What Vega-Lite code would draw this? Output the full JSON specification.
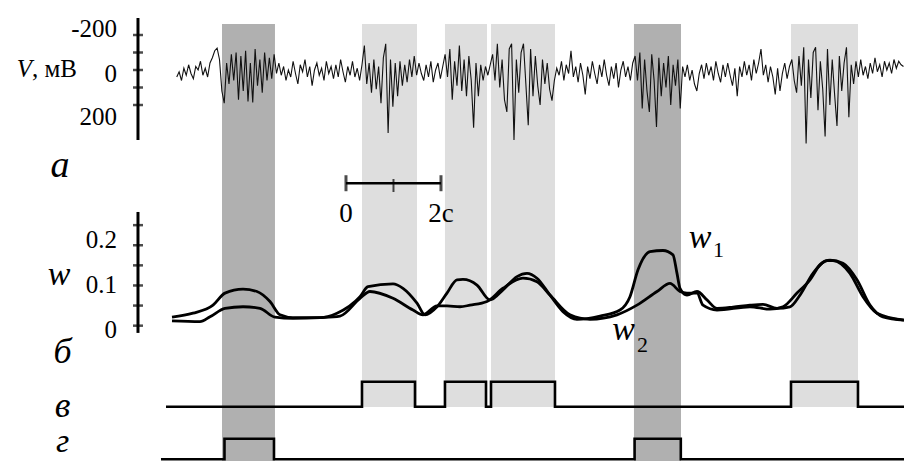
{
"$schema": "https://vega.github.io/schema/vega-lite/v6.json",
"width": 904, "height": 461,
"autosize": {"type": "none"},
"padding": 0,
"background": "white",
"config": {"view": {"stroke": null}},
"datasets": {
"bands": [
{"start": 1.053, "end": 2.168, "kind": "dark"},
{"start": 4.0, "end": 5.158, "kind": "light"},
{"start": 5.747, "end": 6.632, "kind": "light"},
{"start": 6.716, "end": 8.063, "kind": "light"},
{"start": 9.726, "end": 10.716, "kind": "dark"},
{"start": 13.032, "end": 14.442, "kind": "light"}
],
"eeg": [
{"t":0.10,"v":40},{"t":0.15,"v":10},{"t":0.20,"v":60},{"t":0.25,"v":-10},{"t":0.30,"v":30},{"t":0.35,"v":-30},{"t":0.40,"v":20},{"t":0.45,"v":50},{"t":0.50,"v":-20},{"t":0.55,"v":0},{"t":0.60,"v":-50},{"t":0.65,"v":30},{"t":0.70,"v":-10},{"t":0.75,"v":40},{"t":0.80,"v":-40},{"t":0.85,"v":-70},{"t":0.90,"v":-110},{"t":0.95,"v":-125},{"t":1.00,"v":-60},{"t":1.05,"v":120},{"t":1.10,"v":190},{"t":1.15,"v":-40},{"t":1.20,"v":80},{"t":1.25,"v":-90},{"t":1.30,"v":60},{"t":1.35,"v":-100},{"t":1.40,"v":170},{"t":1.45,"v":-80},{"t":1.50,"v":120},{"t":1.55,"v":-110},{"t":1.60,"v":180},{"t":1.65,"v":-40},{"t":1.70,"v":185},{"t":1.75,"v":-120},{"t":1.80,"v":90},{"t":1.85,"v":-60},{"t":1.90,"v":130},{"t":1.95,"v":-100},{"t":2.00,"v":60},{"t":2.05,"v":-70},{"t":2.10,"v":50},{"t":2.15,"v":-90},{"t":2.20,"v":20},{"t":2.25,"v":-40},{"t":2.30,"v":30},{"t":2.35,"v":-20},{"t":2.40,"v":60},{"t":2.45,"v":0},{"t":2.50,"v":40},{"t":2.55,"v":-50},{"t":2.60,"v":20},{"t":2.65,"v":80},{"t":2.70,"v":-30},{"t":2.75,"v":10},{"t":2.80,"v":-60},{"t":2.85,"v":40},{"t":2.90,"v":-20},{"t":2.95,"v":90},{"t":3.00,"v":0},{"t":3.05,"v":-40},{"t":3.10,"v":30},{"t":3.15,"v":-10},{"t":3.20,"v":60},{"t":3.25,"v":-50},{"t":3.30,"v":20},{"t":3.35,"v":-20},{"t":3.40,"v":50},{"t":3.45,"v":-30},{"t":3.50,"v":40},{"t":3.55,"v":-60},{"t":3.60,"v":10},{"t":3.65,"v":70},{"t":3.70,"v":-20},{"t":3.75,"v":30},{"t":3.80,"v":-50},{"t":3.85,"v":40},{"t":3.90,"v":-10},{"t":3.95,"v":60},{"t":4.00,"v":-30},{"t":4.05,"v":-140},{"t":4.10,"v":80},{"t":4.15,"v":-40},{"t":4.20,"v":130},{"t":4.25,"v":-60},{"t":4.30,"v":110},{"t":4.35,"v":-20},{"t":4.40,"v":190},{"t":4.45,"v":-70},{"t":4.50,"v":-150},{"t":4.55,"v":360},{"t":4.60,"v":-60},{"t":4.65,"v":210},{"t":4.70,"v":-40},{"t":4.75,"v":150},{"t":4.80,"v":-50},{"t":4.85,"v":90},{"t":4.90,"v":-30},{"t":4.95,"v":70},{"t":5.00,"v":-60},{"t":5.05,"v":40},{"t":5.10,"v":-80},{"t":5.15,"v":30},{"t":5.20,"v":-40},{"t":5.25,"v":20},{"t":5.30,"v":60},{"t":5.35,"v":-30},{"t":5.40,"v":40},{"t":5.45,"v":-50},{"t":5.50,"v":70},{"t":5.55,"v":0},{"t":5.60,"v":-40},{"t":5.65,"v":50},{"t":5.70,"v":-20},{"t":5.75,"v":-90},{"t":5.80,"v":40},{"t":5.85,"v":-120},{"t":5.90,"v":170},{"t":5.95,"v":-50},{"t":6.00,"v":90},{"t":6.05,"v":-140},{"t":6.10,"v":120},{"t":6.15,"v":-60},{"t":6.20,"v":150},{"t":6.25,"v":-80},{"t":6.30,"v":60},{"t":6.35,"v":330},{"t":6.40,"v":-40},{"t":6.45,"v":150},{"t":6.50,"v":-30},{"t":6.55,"v":60},{"t":6.60,"v":-20},{"t":6.65,"v":30},{"t":6.70,"v":-30},{"t":6.75,"v":-90},{"t":6.80,"v":60},{"t":6.85,"v":-150},{"t":6.90,"v":100},{"t":6.95,"v":-60},{"t":7.00,"v":170},{"t":7.05,"v":240},{"t":7.10,"v":-120},{"t":7.15,"v":-150},{"t":7.20,"v":400},{"t":7.25,"v":-60},{"t":7.30,"v":130},{"t":7.35,"v":-100},{"t":7.40,"v":-150},{"t":7.45,"v":80},{"t":7.50,"v":315},{"t":7.55,"v":-120},{"t":7.60,"v":150},{"t":7.65,"v":-80},{"t":7.70,"v":90},{"t":7.75,"v":200},{"t":7.80,"v":-60},{"t":7.85,"v":80},{"t":7.90,"v":-40},{"t":7.95,"v":110},{"t":8.00,"v":175},{"t":8.05,"v":60},{"t":8.10,"v":-10},{"t":8.15,"v":30},{"t":8.20,"v":-50},{"t":8.25,"v":60},{"t":8.30,"v":-30},{"t":8.35,"v":20},{"t":8.40,"v":-110},{"t":8.45,"v":40},{"t":8.50,"v":-20},{"t":8.55,"v":70},{"t":8.60,"v":-40},{"t":8.65,"v":30},{"t":8.70,"v":140},{"t":8.75,"v":-20},{"t":8.80,"v":50},{"t":8.85,"v":-50},{"t":8.90,"v":20},{"t":8.95,"v":80},{"t":9.00,"v":-30},{"t":9.05,"v":40},{"t":9.10,"v":-60},{"t":9.15,"v":30},{"t":9.20,"v":90},{"t":9.25,"v":-20},{"t":9.30,"v":50},{"t":9.35,"v":-40},{"t":9.40,"v":100},{"t":9.45,"v":0},{"t":9.50,"v":-50},{"t":9.55,"v":40},{"t":9.60,"v":-20},{"t":9.65,"v":60},{"t":9.70,"v":-40},{"t":9.75,"v":-80},{"t":9.80,"v":60},{"t":9.85,"v":-100},{"t":9.90,"v":220},{"t":9.95,"v":-60},{"t":10.00,"v":120},{"t":10.05,"v":240},{"t":10.10,"v":-90},{"t":10.15,"v":60},{"t":10.20,"v":325},{"t":10.25,"v":-70},{"t":10.30,"v":150},{"t":10.35,"v":-40},{"t":10.40,"v":100},{"t":10.45,"v":-80},{"t":10.50,"v":200},{"t":10.55,"v":-30},{"t":10.60,"v":90},{"t":10.65,"v":-60},{"t":10.70,"v":220},{"t":10.75,"v":-20},{"t":10.80,"v":40},{"t":10.85,"v":-30},{"t":10.90,"v":60},{"t":10.95,"v":0},{"t":11.00,"v":80},{"t":11.05,"v":120},{"t":11.10,"v":20},{"t":11.15,"v":-30},{"t":11.20,"v":50},{"t":11.25,"v":-40},{"t":11.30,"v":30},{"t":11.35,"v":-20},{"t":11.40,"v":60},{"t":11.45,"v":-50},{"t":11.50,"v":20},{"t":11.55,"v":70},{"t":11.60,"v":-30},{"t":11.65,"v":40},{"t":11.70,"v":-40},{"t":11.75,"v":30},{"t":11.80,"v":90},{"t":11.85,"v":-10},{"t":11.90,"v":150},{"t":11.95,"v":-20},{"t":12.00,"v":40},{"t":12.05,"v":-50},{"t":12.10,"v":30},{"t":12.15,"v":-30},{"t":12.20,"v":60},{"t":12.25,"v":-60},{"t":12.30,"v":20},{"t":12.35,"v":-40},{"t":12.40,"v":-120},{"t":12.45,"v":30},{"t":12.50,"v":-30},{"t":12.55,"v":70},{"t":12.60,"v":-20},{"t":12.65,"v":40},{"t":12.70,"v":140},{"t":12.75,"v":-10},{"t":12.80,"v":120},{"t":12.85,"v":20},{"t":12.90,"v":-40},{"t":12.95,"v":50},{"t":13.00,"v":-20},{"t":13.05,"v":-60},{"t":13.10,"v":60},{"t":13.15,"v":130},{"t":13.20,"v":-80},{"t":13.25,"v":90},{"t":13.30,"v":-130},{"t":13.35,"v":420},{"t":13.40,"v":-60},{"t":13.45,"v":160},{"t":13.50,"v":-100},{"t":13.55,"v":-130},{"t":13.60,"v":230},{"t":13.65,"v":-50},{"t":13.70,"v":110},{"t":13.75,"v":380},{"t":13.80,"v":-120},{"t":13.85,"v":200},{"t":13.90,"v":-60},{"t":13.95,"v":140},{"t":14.00,"v":320},{"t":14.05,"v":-80},{"t":14.10,"v":120},{"t":14.15,"v":-40},{"t":14.20,"v":-130},{"t":14.25,"v":270},{"t":14.30,"v":-30},{"t":14.35,"v":80},{"t":14.40,"v":-50},{"t":14.45,"v":40},{"t":14.50,"v":-60},{"t":14.55,"v":30},{"t":14.60,"v":-20},{"t":14.65,"v":50},{"t":14.70,"v":-40},{"t":14.75,"v":20},{"t":14.80,"v":-70},{"t":14.85,"v":10},{"t":14.90,"v":-30},{"t":14.95,"v":40},{"t":15.00,"v":-50},{"t":15.05,"v":0},{"t":15.10,"v":-40},{"t":15.15,"v":20},{"t":15.20,"v":-60},{"t":15.25,"v":-10},{"t":15.30,"v":-50},{"t":15.35,"v":-30},{"t":15.40,"v":-20}
],
"w": [
{"s":"w1","t":0.0,"w":0.021},{"s":"w1","t":0.442,"w":0.031},{"s":"w1","t":0.863,"w":0.051},{"s":"w1","t":1.116,"w":0.081},{"s":"w1","t":1.495,"w":0.091},{"s":"w1","t":1.789,"w":0.085},{"s":"w1","t":2.063,"w":0.060},{"s":"w1","t":2.274,"w":0.027},{"s":"w1","t":2.547,"w":0.020},{"s":"w1","t":3.116,"w":0.020},{"s":"w1","t":3.474,"w":0.031},{"s":"w1","t":3.958,"w":0.072},{"s":"w1","t":4.126,"w":0.097},{"s":"w1","t":4.653,"w":0.104},{"s":"w1","t":4.863,"w":0.093},{"s":"w1","t":5.158,"w":0.056},{"s":"w1","t":5.326,"w":0.027},{"s":"w1","t":5.579,"w":0.047},{"s":"w1","t":5.789,"w":0.081},{"s":"w1","t":6.0,"w":0.114},{"s":"w1","t":6.126,"w":0.115},{"s":"w1","t":6.421,"w":0.101},{"s":"w1","t":6.695,"w":0.064},{"s":"w1","t":6.968,"w":0.089},{"s":"w1","t":7.263,"w":0.122},{"s":"w1","t":7.474,"w":0.130},{"s":"w1","t":7.684,"w":0.118},{"s":"w1","t":7.958,"w":0.076},{"s":"w1","t":8.232,"w":0.035},{"s":"w1","t":8.526,"w":0.016},{"s":"w1","t":9.011,"w":0.024},{"s":"w1","t":9.432,"w":0.039},{"s":"w1","t":9.642,"w":0.072},{"s":"w1","t":9.811,"w":0.139},{"s":"w1","t":10.063,"w":0.184},{"s":"w1","t":10.337,"w":0.187},{"s":"w1","t":10.547,"w":0.176},{"s":"w1","t":10.632,"w":0.130},{"s":"w1","t":10.695,"w":0.093},{"s":"w1","t":10.842,"w":0.076},{"s":"w1","t":11.053,"w":0.085},{"s":"w1","t":11.263,"w":0.064},{"s":"w1","t":11.474,"w":0.043},{"s":"w1","t":11.811,"w":0.046},{"s":"w1","t":12.168,"w":0.051},{"s":"w1","t":12.442,"w":0.053},{"s":"w1","t":12.737,"w":0.043},{"s":"w1","t":13.011,"w":0.047},{"s":"w1","t":13.221,"w":0.076},{"s":"w1","t":13.495,"w":0.130},{"s":"w1","t":13.789,"w":0.162},{"s":"w1","t":13.916,"w":0.162},{"s":"w1","t":14.274,"w":0.130},{"s":"w1","t":14.547,"w":0.072},{"s":"w1","t":14.842,"w":0.031},{"s":"w1","t":15.411,"w":0.014},
{"s":"w2","t":0.0,"w":0.012},{"s":"w2","t":0.589,"w":0.010},{"s":"w2","t":0.8,"w":0.022},{"s":"w2","t":1.116,"w":0.043},{"s":"w2","t":1.495,"w":0.047},{"s":"w2","t":1.853,"w":0.043},{"s":"w2","t":2.168,"w":0.021},{"s":"w2","t":2.547,"w":0.018},{"s":"w2","t":3.116,"w":0.020},{"s":"w2","t":3.537,"w":0.024},{"s":"w2","t":3.958,"w":0.068},{"s":"w2","t":4.168,"w":0.085},{"s":"w2","t":4.653,"w":0.068},{"s":"w2","t":5.074,"w":0.039},{"s":"w2","t":5.284,"w":0.027},{"s":"w2","t":5.579,"w":0.049},{"s":"w2","t":5.789,"w":0.049},{"s":"w2","t":6.063,"w":0.047},{"s":"w2","t":6.274,"w":0.051},{"s":"w2","t":6.632,"w":0.060},{"s":"w2","t":6.968,"w":0.093},{"s":"w2","t":7.389,"w":0.118},{"s":"w2","t":7.684,"w":0.109},{"s":"w2","t":7.958,"w":0.076},{"s":"w2","t":8.379,"w":0.027},{"s":"w2","t":8.8,"w":0.016},{"s":"w2","t":9.368,"w":0.027},{"s":"w2","t":9.789,"w":0.051},{"s":"w2","t":10.211,"w":0.085},{"s":"w2","t":10.484,"w":0.105},{"s":"w2","t":10.695,"w":0.085},{"s":"w2","t":10.842,"w":0.081},{"s":"w2","t":11.053,"w":0.081},{"s":"w2","t":11.179,"w":0.051},{"s":"w2","t":11.474,"w":0.039},{"s":"w2","t":12.168,"w":0.047},{"s":"w2","t":12.589,"w":0.041},{"s":"w2","t":12.863,"w":0.047},{"s":"w2","t":13.158,"w":0.081},{"s":"w2","t":13.432,"w":0.114},{"s":"w2","t":13.642,"w":0.151},{"s":"w2","t":13.853,"w":0.163},{"s":"w2","t":14.126,"w":0.155},{"s":"w2","t":14.421,"w":0.114},{"s":"w2","t":14.695,"w":0.051},{"s":"w2","t":14.968,"w":0.022},{"s":"w2","t":15.411,"w":0.014}
],
"vstep": [
{"t":-0.126,"s":0},{"t":4.0,"s":1},{"t":5.116,"s":0},{"t":5.747,"s":1},{"t":6.611,"s":0},{"t":6.716,"s":1},{"t":8.063,"s":0},{"t":13.032,"s":1},{"t":14.442,"s":0},{"t":15.411,"s":0}
],
"gstep": [
{"t":-0.232,"s":0},{"t":1.105,"s":1},{"t":2.147,"s":0},{"t":9.739,"s":1},{"t":10.712,"s":0},{"t":15.411,"s":0}
],
"vticks": [{"value":-200},{"value":-100},{"value":0},{"value":100},{"value":200}],
"wticks": [{"value":0},{"value":0.05},{"value":0.1},{"value":0.15},{"value":0.2},{"value":0.25}],
"scalebar": [{"t":3.663,"label":"0"},{"t":5.663,"label":"2с"}],
"one": [{}]
},
"layer": [
{
"layer": [
{"data": {"name": "bands"}, "transform": [{"filter": "datum.kind == 'dark'"}],
 "mark": {"type": "rect", "color": "#b0b0b0"},
 "encoding": {
  "x": {"field": "start", "type": "quantitative", "scale": {"domain": [-3.621, 15.411], "nice": false, "zero": false}, "axis": null},
  "x2": {"field": "end"},
  "y": {"datum": -263, "type": "quantitative", "scale": {"domain": [-400, 2234.3], "reverse": true, "nice": false, "zero": false}, "axis": null},
  "y2": {"datum": 2234.3}
 }},
{"data": {"name": "bands"}, "transform": [{"filter": "datum.kind == 'light'"}],
 "mark": {"type": "rect", "color": "#dedede"},
 "encoding": {
  "x": {"field": "start", "type": "quantitative", "axis": null},
  "x2": {"field": "end"},
  "y": {"datum": -263, "type": "quantitative", "axis": null},
  "y2": {"datum": 1925.7}
 }},
{"data": {"name": "eeg"},
 "mark": {"type": "line", "color": "#111111", "strokeWidth": 1.1},
 "encoding": {
  "x": {"field": "t", "type": "quantitative", "axis": null},
  "y": {"field": "v", "type": "quantitative", "axis": null}
 }},
{"data": {"name": "one"},
 "mark": {"type": "rule", "color": "black", "strokeWidth": 3},
 "encoding": {
  "x": {"datum": -0.716, "type": "quantitative"},
  "y": {"datum": -297, "type": "quantitative"},
  "y2": {"datum": 400}
 }},
{"data": {"name": "vticks"},
 "mark": {"type": "tick", "orient": "horizontal", "color": "black", "size": 10, "thickness": 2.5},
 "encoding": {
  "x": {"datum": -0.716, "type": "quantitative"},
  "y": {"field": "value", "type": "quantitative"}
 }},
{"data": {"name": "one"},
 "mark": {"type": "text", "text": "-200", "font": "Liberation Serif", "align": "right", "baseline": "alphabetic", "fontSize": 25},
 "encoding": {"x": {"datum": -1.158, "type": "quantitative"}, "y": {"datum": -189, "type": "quantitative"}}},
{"data": {"name": "one"},
 "mark": {"type": "text", "text": "0", "font": "Liberation Serif", "align": "right", "baseline": "alphabetic", "fontSize": 25},
 "encoding": {"x": {"datum": -1.158, "type": "quantitative"}, "y": {"datum": 66, "type": "quantitative"}}},
{"data": {"name": "one"},
 "mark": {"type": "text", "text": "200", "font": "Liberation Serif", "align": "right", "baseline": "alphabetic", "fontSize": 25},
 "encoding": {"x": {"datum": -1.158, "type": "quantitative"}, "y": {"datum": 314, "type": "quantitative"}}},
{"data": {"name": "one"},
 "mark": {"type": "text", "text": "V", "font": "Liberation Serif", "align": "right", "baseline": "alphabetic", "fontSize": 25, "fontStyle": "italic"},
 "encoding": {"x": {"datum": -2.947, "type": "quantitative"}, "y": {"datum": 38, "type": "quantitative"}}},
{"data": {"name": "one"},
 "mark": {"type": "text", "text": ", мВ", "font": "Liberation Serif", "align": "left", "baseline": "alphabetic", "fontSize": 25},
 "encoding": {"x": {"datum": -2.947, "type": "quantitative"}, "y": {"datum": 38, "type": "quantitative"}}},
{"data": {"name": "one"},
 "mark": {"type": "text", "text": "а", "font": "Liberation Serif", "align": "center", "baseline": "alphabetic", "fontSize": 38, "fontStyle": "italic"},
 "encoding": {"x": {"datum": -2.358, "type": "quantitative"}, "y": {"datum": 611, "type": "quantitative"}}},
{"data": {"name": "one"},
 "mark": {"type": "rule", "color": "black", "strokeWidth": 2.5},
 "encoding": {
  "x": {"datum": 3.663, "type": "quantitative"},
  "x2": {"datum": 5.663},
  "y": {"datum": 647, "type": "quantitative"}
 }},
{"data": {"name": "scalebar"},
 "mark": {"type": "tick", "orient": "vertical", "color": "black", "size": 16, "thickness": 3},
 "encoding": {
  "x": {"field": "t", "type": "quantitative"},
  "y": {"datum": 647, "type": "quantitative"}
 }},
{"data": {"name": "one"},
 "mark": {"type": "tick", "orient": "vertical", "color": "black", "size": 13, "thickness": 2},
 "encoding": {
  "x": {"datum": 4.663, "type": "quantitative"},
  "y": {"datum": 660, "type": "quantitative"}
 }},
{"data": {"name": "scalebar"},
 "mark": {"type": "text", "font": "Liberation Serif", "align": "center", "baseline": "alphabetic", "fontSize": 27},
 "encoding": {
  "x": {"field": "t", "type": "quantitative"},
  "y": {"datum": 869, "type": "quantitative"},
  "text": {"field": "label"}
 }}
]
},
{
"layer": [
{"data": {"name": "w"},
 "mark": {"type": "line", "color": "black", "strokeWidth": 2.8, "interpolate": "monotone"},
 "encoding": {
  "x": {"field": "t", "type": "quantitative", "axis": null},
  "y": {"field": "w", "type": "quantitative", "scale": {"domain": [-0.3366, 0.810], "nice": false, "zero": false}, "axis": null},
  "detail": {"field": "s"}
 }},
{"data": {"name": "one"},
 "mark": {"type": "rule", "color": "black", "strokeWidth": 3},
 "encoding": {
  "x": {"datum": -0.716, "type": "quantitative"},
  "y": {"datum": 0.2828, "type": "quantitative"},
  "y2": {"datum": -0.018}
 }},
{"data": {"name": "wticks"},
 "mark": {"type": "tick", "orient": "horizontal", "color": "black", "size": 10, "thickness": 2.5},
 "encoding": {
  "x": {"datum": -0.716, "type": "quantitative"},
  "y": {"field": "value", "type": "quantitative"}
 }},
{"data": {"name": "one"},
 "mark": {"type": "text", "text": "0.2", "font": "Liberation Serif", "align": "right", "baseline": "alphabetic", "fontSize": 25},
 "encoding": {"x": {"datum": -1.158, "type": "quantitative"}, "y": {"datum": 0.1925, "type": "quantitative"}}},
{"data": {"name": "one"},
 "mark": {"type": "text", "text": "0.1", "font": "Liberation Serif", "align": "right", "baseline": "alphabetic", "fontSize": 25},
 "encoding": {"x": {"datum": -1.158, "type": "quantitative"}, "y": {"datum": 0.0806, "type": "quantitative"}}},
{"data": {"name": "one"},
 "mark": {"type": "text", "text": "0", "font": "Liberation Serif", "align": "right", "baseline": "alphabetic", "fontSize": 25},
 "encoding": {"x": {"datum": -1.158, "type": "quantitative"}, "y": {"datum": -0.0314, "type": "quantitative"}}},
{"data": {"name": "one"},
 "mark": {"type": "text", "text": "w", "font": "Liberation Serif", "align": "center", "baseline": "alphabetic", "fontSize": 34, "fontStyle": "italic"},
 "encoding": {"x": {"datum": -2.379, "type": "quantitative"}, "y": {"datum": 0.101, "type": "quantitative"}}},
{"data": {"name": "one"},
 "mark": {"type": "text", "text": "б", "font": "Liberation Serif", "align": "center", "baseline": "alphabetic", "fontSize": 36, "fontStyle": "italic"},
 "encoding": {"x": {"datum": -2.305, "type": "quantitative"}, "y": {"datum": -0.0928, "type": "quantitative"}}},
{"data": {"name": "one"},
 "mark": {"type": "text", "text": "w", "font": "Liberation Serif", "align": "center", "baseline": "alphabetic", "fontSize": 34, "fontStyle": "italic"},
 "encoding": {"x": {"datum": 11.116, "type": "quantitative"}, "y": {"datum": 0.193, "type": "quantitative"}}},
{"data": {"name": "one"},
 "mark": {"type": "text", "text": "1", "font": "Liberation Serif", "align": "left", "baseline": "alphabetic", "fontSize": 22},
 "encoding": {"x": {"datum": 11.39, "type": "quantitative"}, "y": {"datum": 0.171, "type": "quantitative"}}},
{"data": {"name": "one"},
 "mark": {"type": "text", "text": "w", "font": "Liberation Serif", "align": "center", "baseline": "alphabetic", "fontSize": 34, "fontStyle": "italic"},
 "encoding": {"x": {"datum": 9.505, "type": "quantitative"}, "y": {"datum": -0.0356, "type": "quantitative"}}},
{"data": {"name": "one"},
 "mark": {"type": "text", "text": "2", "font": "Liberation Serif", "align": "left", "baseline": "alphabetic", "fontSize": 22},
 "encoding": {"x": {"datum": 9.79, "type": "quantitative"}, "y": {"datum": -0.0654, "type": "quantitative"}}}
]
},
{
"layer": [
{"data": {"name": "vstep"},
 "mark": {"type": "line", "color": "black", "strokeWidth": 2.6, "interpolate": "step-after"},
 "encoding": {
  "x": {"field": "t", "type": "quantitative", "axis": null},
  "y": {"field": "s", "type": "quantitative", "scale": {"domain": [-2.172, 16.27], "nice": false, "zero": false}, "axis": null}
 }},
{"data": {"name": "one"},
 "mark": {"type": "text", "text": "в", "font": "Liberation Serif", "align": "center", "baseline": "alphabetic", "fontSize": 36, "fontStyle": "italic"},
 "encoding": {"x": {"datum": -2.305, "type": "quantitative"}, "y": {"datum": -0.412, "type": "quantitative"}}}
]
},
{
"layer": [
{"data": {"name": "gstep"},
 "mark": {"type": "line", "color": "black", "strokeWidth": 2.6, "interpolate": "step-after"},
 "encoding": {
  "x": {"field": "t", "type": "quantitative", "axis": null},
  "y": {"field": "s", "type": "quantitative", "scale": {"domain": [-0.083, 22.40], "nice": false, "zero": false}, "axis": null}
 }},
{"data": {"name": "one"},
 "mark": {"type": "text", "text": "г", "font": "Liberation Serif", "align": "center", "baseline": "bottom", "fontSize": 34, "fontStyle": "italic"},
 "encoding": {"x": {"datum": -2.305, "type": "quantitative"}, "y": {"datum": 0.0, "type": "quantitative"}}}
]
}
],
"resolve": {"scale": {"y": "independent"}}
}
